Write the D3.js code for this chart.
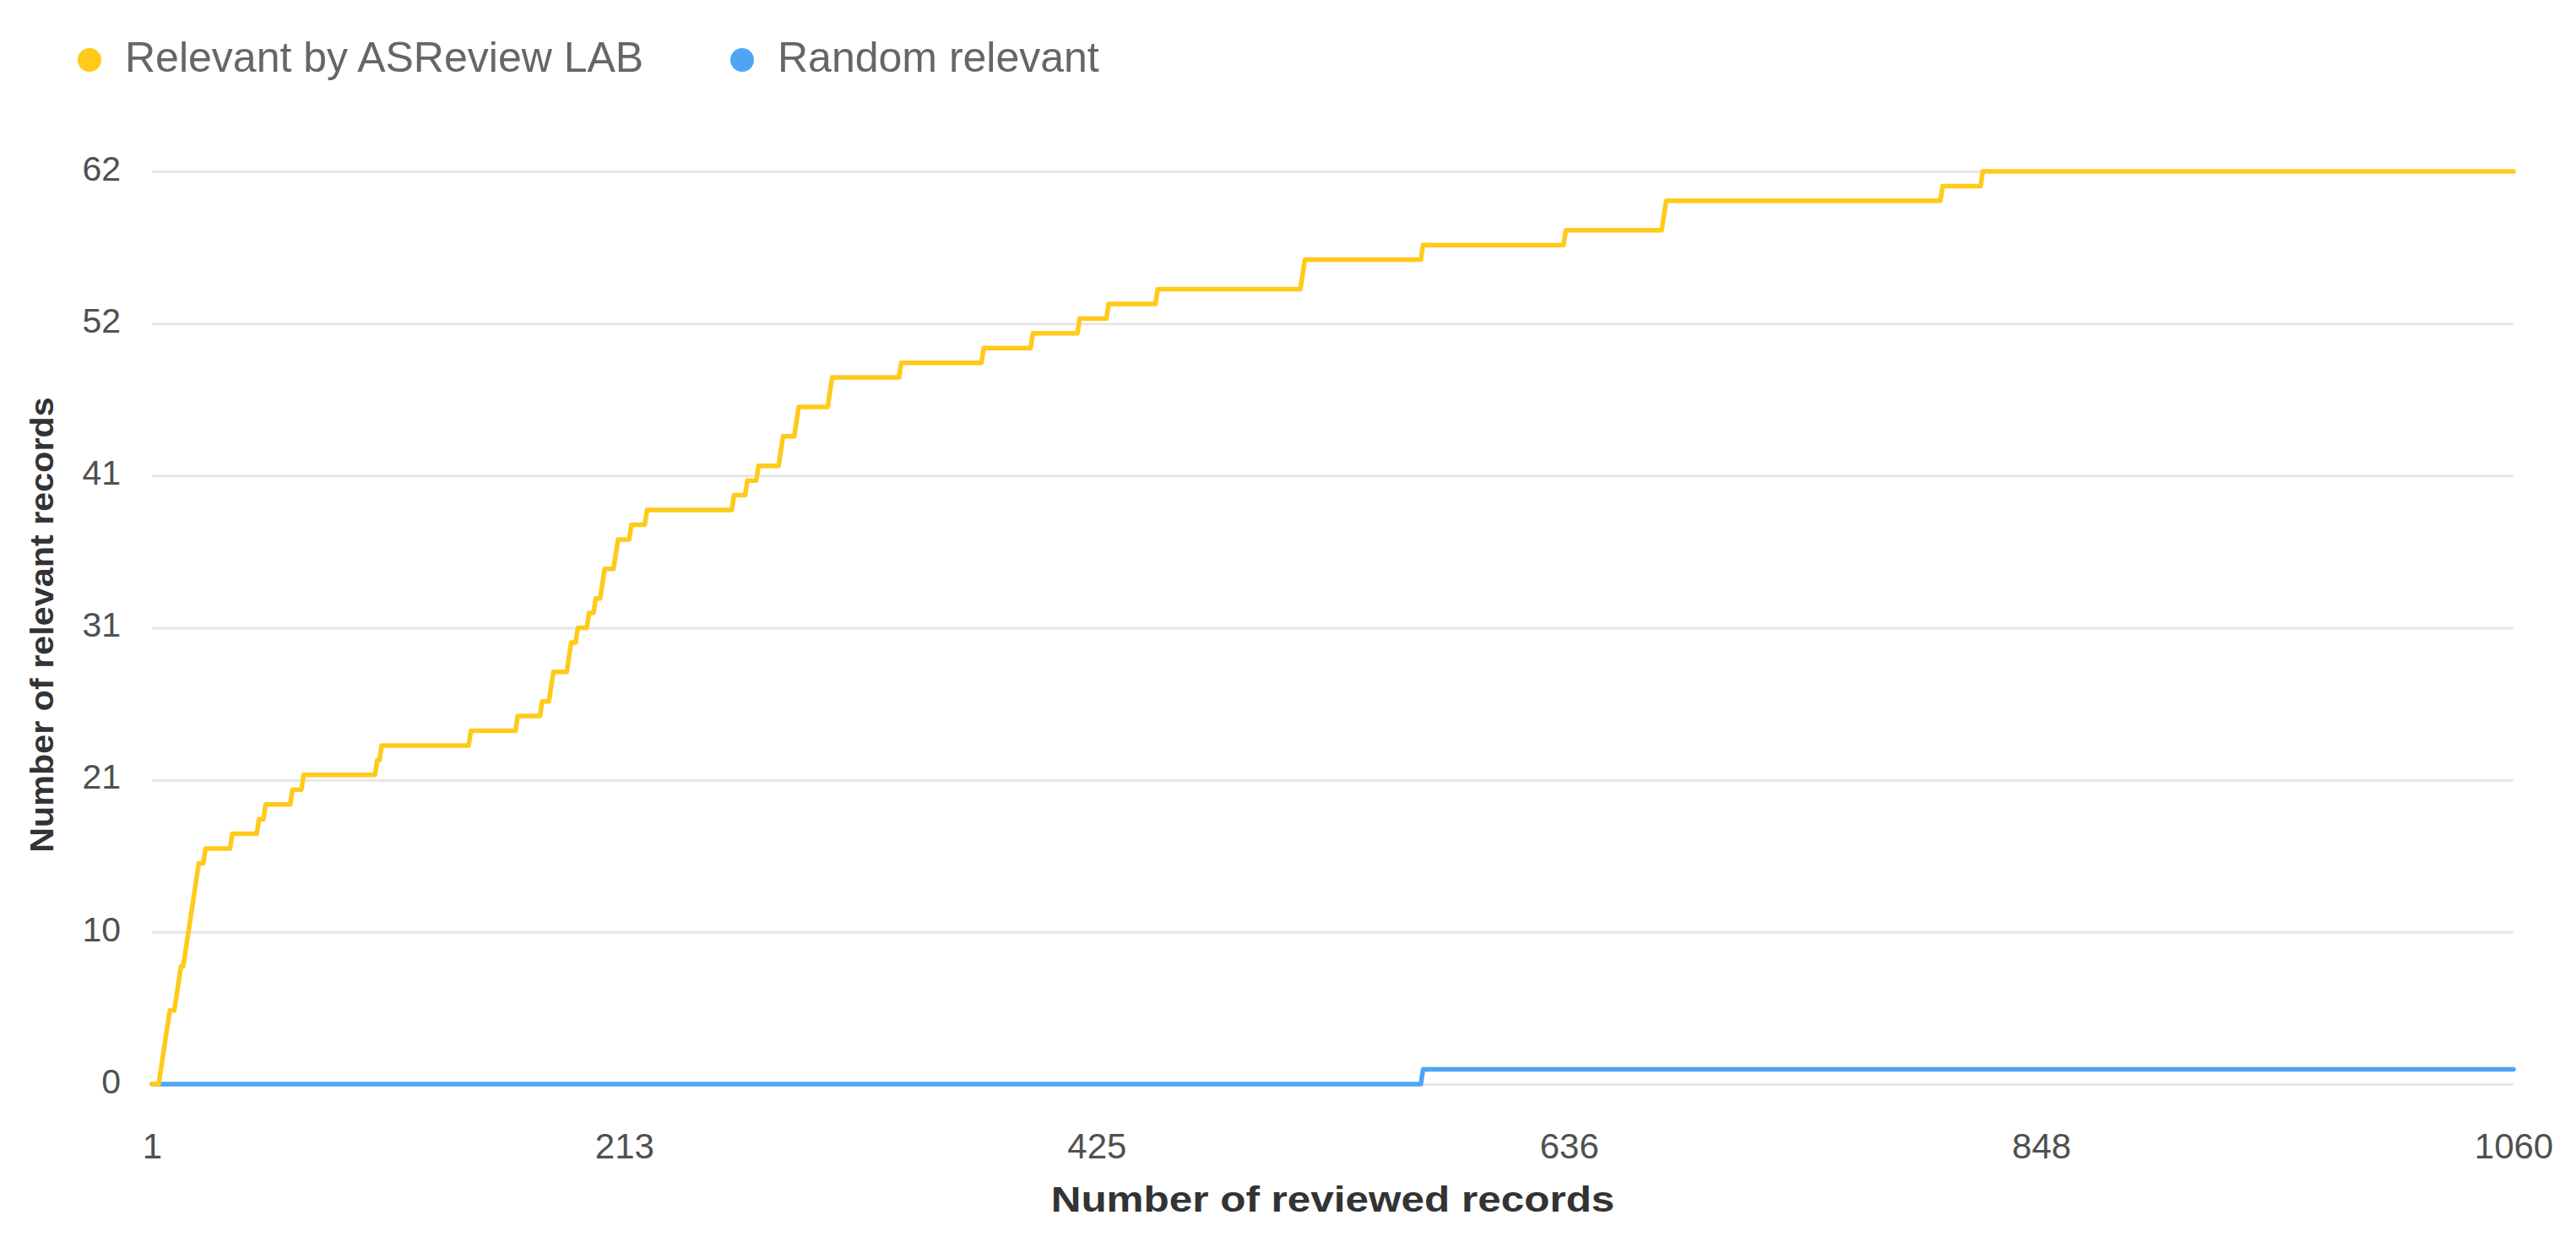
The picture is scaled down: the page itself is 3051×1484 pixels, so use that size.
<!DOCTYPE html>
<html>
<head>
<meta charset="utf-8">
<script src="https://cdn.jsdelivr.net/npm/d3@7"></script>
<style>
  html, body { margin: 0; padding: 0; background: #ffffff; }
  svg { display: block; font-family: Arial, "Liberation Sans", Helvetica, sans-serif; }
</style>
</head>
<body>
<svg id="chart" width="3051" height="1484"></svg>
<script>
// ---------------- data ----------------
const seriesNames = ["Relevant by ASReview LAB", "Random relevant"];
const seriesColors = ["#ffca1a", "#4ea5f6"];
// record numbers (1-based) at which a relevant record was found
const asreviewHits = [5, 6, 7, 8, 9, 12, 13, 14, 16, 17, 18, 19, 20, 21, 22, 25, 37, 49, 52, 64, 69,
  102, 104, 144, 165, 176, 180, 181, 188, 189, 192, 197, 200, 203, 204, 209, 210, 216, 223,
  262, 268, 273, 283, 284, 290, 291, 305, 306, 337, 374, 396, 417, 430, 452, 517, 518, 571,
  635, 679, 680, 804, 822];
const randomHits = [571];
const totalRecords = 1060;
const yMax = 62;
const xTickLabels = ["1", "213", "425", "636", "848", "1060"];
const yTickLabels = ["0", "10", "21", "31", "41", "52", "62"];
const xTitle = "Number of reviewed records";
const yTitle = "Number of relevant records";

// ---------------- layout ----------------
const W = 3051, H = 1484;
const plot = { left: 180, right: 2977, top: 203, bottom: 1284 };

const svg = d3.select("#chart");
svg.append("rect").attr("width", W).attr("height", H).attr("fill", "#ffffff");

const x = d3.scaleLinear().domain([1, totalRecords]).range([plot.left, plot.right]);
const y = d3.scaleLinear().domain([0, yMax]).range([plot.bottom, plot.top]);

const yTickVals = yTickLabels.map((_, i) => yMax * i / (yTickLabels.length - 1));
const xTickVals = xTickLabels.map((_, i) => 1 + (totalRecords - 1) * i / (xTickLabels.length - 1));

// gridlines + y labels
const yAxis = d3.axisLeft(y)
  .tickValues(yTickVals)
  .tickFormat((d, i) => yTickLabels[i])
  .tickSize(-(plot.right - plot.left))
  .tickPadding(37);
const gy = svg.append("g").attr("transform", `translate(${plot.left},0)`).call(yAxis);
gy.select(".domain").remove();
gy.selectAll(".tick line").attr("stroke", "#e6e6e6").attr("stroke-width", 3);
gy.selectAll(".tick text")
  .attr("fill", "#505050")
  .style("font-size", "41px")
  .attr("dy", "0.25em");

// x labels
const xAxis = d3.axisBottom(x)
  .tickValues(xTickVals)
  .tickFormat((d, i) => xTickLabels[i])
  .tickSize(0)
  .tickPadding(58);
const gx = svg.append("g").attr("transform", `translate(0,${plot.bottom})`).call(xAxis);
gx.select(".domain").remove();
gx.selectAll(".tick text")
  .attr("fill", "#505050")
  .style("font-size", "42px");

// ---------------- lines ----------------
function cumulativePoints(hits) {
  const pts = [[1, 0]];
  hits.forEach((r, i) => {
    pts.push([r - 1, i]);
    pts.push([r, i + 1]);
  });
  pts.push([totalRecords, hits.length]);
  return pts;
}
const line = d3.line().x(d => x(d[0])).y(d => y(d[1]));

const seriesData = [cumulativePoints(asreviewHits), cumulativePoints(randomHits)];
// draw blue first so yellow overlaps at the start like the reference
[1, 0].forEach(si => {
  svg.append("path")
    .datum(seriesData[si])
    .attr("d", line)
    .attr("fill", "none")
    .attr("stroke", seriesColors[si])
    .attr("stroke-width", 5.5)
    .attr("stroke-linejoin", "round")
    .attr("stroke-linecap", "round");
});

// ---------------- titles ----------------
svg.append("text")
  .attr("transform", `translate(${(plot.left + plot.right) / 2},1435) scale(1.15,1)`)
  .attr("text-anchor", "middle")
  .attr("fill", "#333333")
  .style("font-size", "43px")
  .style("font-weight", "bold")
  .text(xTitle);

svg.append("text")
  .attr("transform", `translate(63,740) rotate(-90) scale(1.06,1)`)
  .attr("text-anchor", "middle")
  .attr("fill", "#333333")
  .style("font-size", "39px")
  .style("font-weight", "bold")
  .text(yTitle);

// ---------------- legend ----------------
const legendX = [106, 879];
const legend = svg.append("g");
seriesNames.forEach((name, i) => {
  const g = legend.append("g").attr("transform", `translate(${legendX[i]},71)`);
  g.append("circle").attr("r", 14).attr("fill", seriesColors[i]);
  g.append("text")
    .attr("x", 42)
    .attr("y", 14)
    .attr("fill", "#666666")
    .style("font-size", "50px")
    .text(name);
});
</script>
</body>
</html>
